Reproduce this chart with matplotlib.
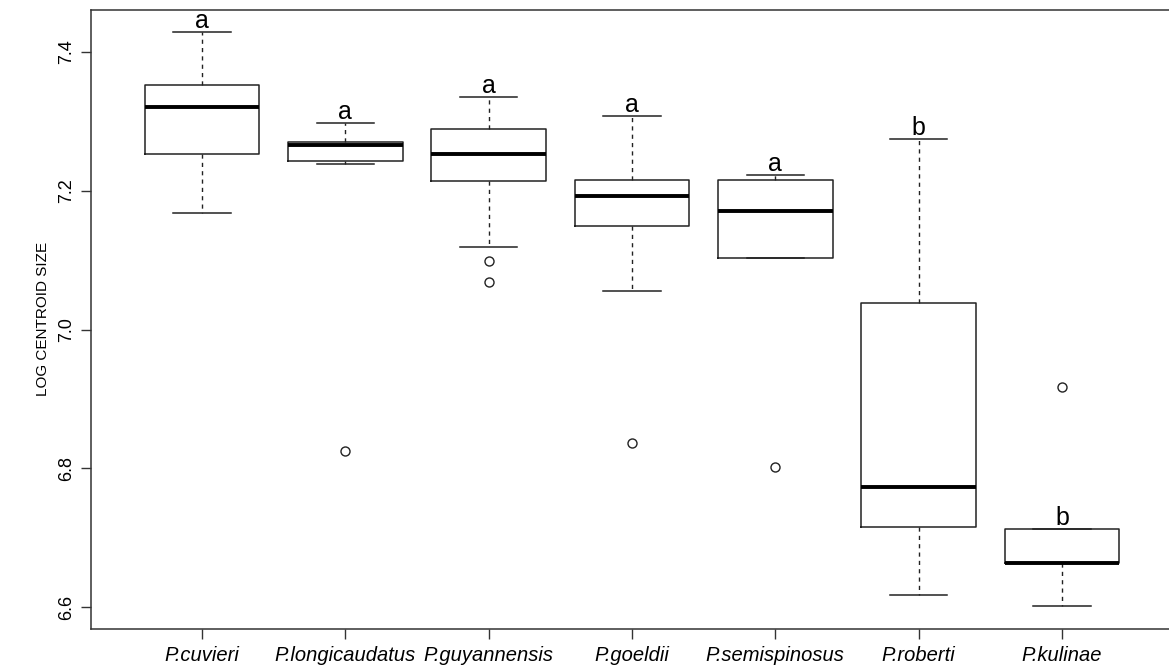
import matplotlib
matplotlib.use("Agg")
import matplotlib.pyplot as plt

# значения прочитаны с исходного рисунка
species = ["P.cuvieri", "P.longicaudatus", "P.guyannensis", "P.goeldii",
           "P.semispinosus", "P.roberti", "P.kulinae"]
whislo = [7.168, 7.239, 7.119, 7.056, 7.1035, 6.617, 6.601]
q1 = [7.2525, 7.243, 7.214, 7.1496, 7.1035, 6.716, 6.6635]
med = [7.3207, 7.2664, 7.2525, 7.192, 7.1712, 6.7734, 6.664]
q3 = [7.3529, 7.2703, 7.2895, 7.215, 7.215, 7.0386, 6.7124]
whishi = [7.4284, 7.2972, 7.3356, 7.3073, 7.2227, 7.2748, 6.7124]
outliers = [[], [6.825], [7.0987, 7.0685], [6.836], [6.8018], [], [6.9167]]
letters = ["a", "a", "a", "a", "a", "b", "b"]
yticks = [6.6, 6.8, 7.0, 7.2, 7.4]

plt.rcParams['font.family'] = ['Liberation Sans', 'DejaVu Sans']

fig = plt.figure(figsize=(11.69, 6.70), dpi=100)
ax = fig.add_axes([0.0776, 0.0607, 0.926, 0.9251])

stats = []
for i in range(len(species)):
    stats.append({'whislo': whislo[i], 'q1': q1[i], 'med': med[i],
                  'q3': q3[i], 'whishi': whishi[i], 'fliers': outliers[i]})

pos = list(range(1, len(species) + 1))
ax.bxp(stats, positions=pos, widths=0.8, capwidths=0.4, showfliers=True,
       boxprops=dict(color='#222222', linewidth=1.1),
       medianprops=dict(color='black', linewidth=2.8, solid_capstyle='butt'),
       whiskerprops=dict(color='#222222', linewidth=1.0, linestyle=(0, (3, 3))),
       capprops=dict(color='#222222', linewidth=1.1),
       flierprops=dict(marker='o', markerfacecolor='none', markeredgecolor='#222222',
                       markersize=6.5, markeredgewidth=1.0))

# буквы над усами
for i in range(len(species)):
    top = max(whishi[i], q3[i])
    ax.annotate(letters[i], (pos[i], top), xytext=(0, 3), textcoords='offset points',
                ha='center', va='baseline', fontsize=18)

ax.set_xlim(0.2235, 7.7765)
ax.set_ylim(6.5679, 7.4613)
ax.set_xticks(pos)
ax.set_xticklabels(species, fontsize=14.5, style='italic')
ax.set_yticks(yticks)
ax.set_yticklabels([f"{v:.1f}" for v in yticks], fontsize=13, rotation=90, va='center')
ax.tick_params(axis='both', length=7, width=1, color='#333333')
ax.tick_params(axis='x', pad=5)
ax.tick_params(axis='y', pad=4)
ax.set_ylabel('LOG CENTROID SIZE', fontsize=11, labelpad=6)

for s in ax.spines.values():
    s.set_color('#333333')
    s.set_linewidth(1.1)

fig.savefig('out.png', dpi=100)
